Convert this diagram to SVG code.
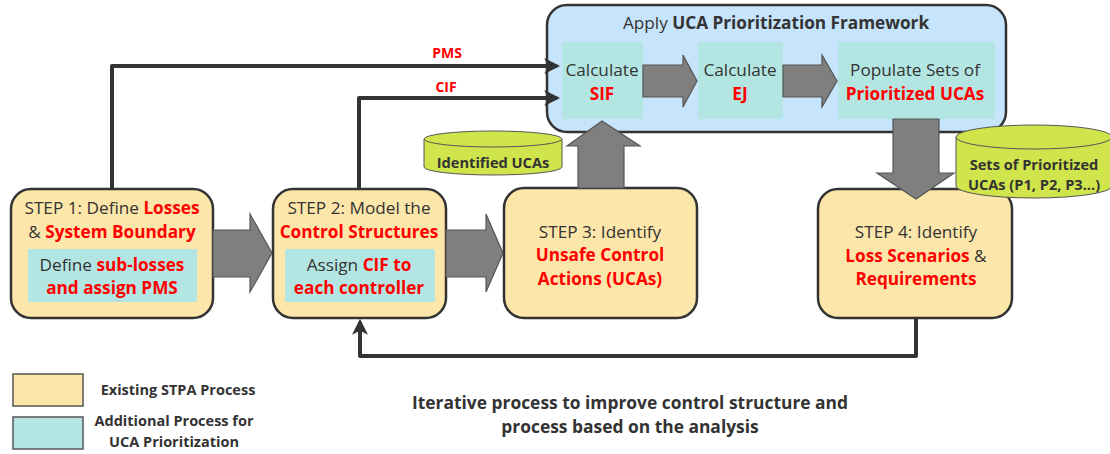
<svg xmlns="http://www.w3.org/2000/svg" width="1110" height="454" viewBox="0 0 1110 454">
<defs>
<style>
text{font-family:"Open Sans","Noto Sans","DejaVu Sans",sans-serif;fill:#333;}
.t{font-size:17.2px;text-anchor:middle;}
.b{font-weight:bold;}
.r{fill:#ff0000;font-weight:bold;}
.step{fill:#fce6a9;stroke:#333;stroke-width:2.5;}
.add{fill:#b3e6e2;}
.blk{fill:#7f7f7f;stroke:#555;stroke-width:1.2;}
.cyl{fill:#d0e44c;stroke:#555;stroke-width:1;}
.ln{fill:none;stroke:#333;stroke-width:4;stroke-linejoin:round;}
.lbl{font-size:14px;font-weight:bold;fill:#ff0000;text-anchor:middle;}
.leg{font-size:14.5px;font-weight:bold;text-anchor:middle;}
.cy{font-size:14.6px;font-weight:bold;text-anchor:middle;}
.cap{font-size:17.4px;font-weight:bold;text-anchor:middle;}
</style>
<marker id="ah" viewBox="0 0 10 10" refX="8" refY="5" markerWidth="4" markerHeight="4" orient="auto" markerUnits="strokeWidth">
<path d="M0,0 L10,5 L0,10 L2.5,5 z" fill="#333"/>
</marker>
</defs>

<g id="framework">
<rect x="547" y="5" width="459" height="127" rx="20" fill="#c6e4fb" stroke="#333" stroke-width="2.5"/>
<text class="t" x="776" y="29">Apply <tspan class="b">UCA Prioritization Framework</tspan></text>
</g>
<g id="calc-sif">
<rect class="add" x="562" y="42" width="81" height="77"/>
<text class="t" x="602" y="76">Calculate</text>
<text class="t r" x="602" y="100">SIF</text>
</g>
<g id="calc-ej">
<rect class="add" x="698" y="42" width="85" height="77"/>
<text class="t" x="740" y="76">Calculate</text>
<text class="t r" x="740" y="100">EJ</text>
</g>
<g id="populate">
<rect class="add" x="838" y="42" width="157" height="77"/>
<text class="t" x="915" y="76">Populate Sets of</text>
<text class="t r" x="915" y="100">Prioritized UCAs</text>
</g>

<g id="step1">
<rect class="step" x="11" y="189" width="202" height="129" rx="20"/>
<text class="t" x="112" y="214">STEP 1: Define <tspan class="r">Losses</tspan></text>
<text class="t" x="112" y="238">&amp; <tspan class="r">System Boundary</tspan></text>
<rect class="add" x="28" y="249" width="169" height="53"/>
<text class="t" x="112" y="271">Define <tspan class="r">sub-losses</tspan></text>
<text class="t r" x="112" y="294">and assign PMS</text>
</g>

<g id="step2">
<rect class="step" x="273" y="189" width="173" height="129" rx="20"/>
<text class="t" x="359" y="214">STEP 2: Model the</text>
<text class="t r" x="359" y="238">Control Structures</text>
<rect class="add" x="285" y="249" width="150" height="53"/>
<text class="t" x="359" y="271">Assign <tspan class="r">CIF to</tspan></text>
<text class="t r" x="359" y="294">each controller</text>
</g>

<g id="step3">
<rect class="step" x="504" y="188" width="193" height="130" rx="20"/>
<text class="t" x="600" y="238">STEP 3: Identify</text>
<text class="t r" x="600" y="261">Unsafe Control</text>
<text class="t r" x="600" y="285">Actions (UCAs)</text>
</g>

<g id="step4">
<rect class="step" x="818" y="189" width="194" height="129" rx="20"/>
<text class="t" x="916" y="238">STEP 4: Identify</text>
<text class="t" x="916" y="262"><tspan class="r">Loss Scenarios</tspan> &amp;</text>
<text class="t r" x="916" y="285">Requirements</text>
</g>

<g id="connectors">
<polygon class="blk" points="213,230 250,230 250,214 272,253 250,292 250,277 213,277"/>
<polygon class="blk" points="446,230 486,230 486,214 503,253 486,292 486,277 446,277"/>
<polygon class="blk" points="643,65 683,65 683,55 697,81 683,107 683,97 643,97"/>
<polygon class="blk" points="783,65 822,65 822,55 837,81 822,107 822,97 783,97"/>
<polygon class="blk" points="578,188 578,146 567,146 602,121 640,146 624,146 624,188"/>
<polygon class="blk" points="893,119 939,119 939,173 954,173 916,199 877,173 893,173"/>
<path class="ln" d="M112,189 V66 H557" marker-end="url(#ah)"/>
<path class="ln" d="M359,189 V98 H557" marker-end="url(#ah)"/>
<path class="ln" d="M916,318 V356 H360 V322" marker-end="url(#ah)"/>
<text class="lbl" x="447" y="58">PMS</text>
<text class="lbl" x="446" y="92">CIF</text>
</g>

<g id="identified-ucas">
<path class="cyl" d="M424,139 V167 A69,8 0 0 0 562,167 V139 Z"/>
<ellipse class="cyl" cx="493" cy="139" rx="69" ry="8"/>
<text class="cy" x="493" y="168">Identified UCAs</text>
</g>

<g id="sets-prioritized">
<path class="cyl" d="M956,137 V186 A78,12 0 0 0 1112,186 V137 Z"/>
<ellipse class="cyl" cx="1034" cy="137" rx="78" ry="12"/>
<text class="cy" x="1034" y="170">Sets of Prioritized</text>
<text class="cy" x="1034" y="190">UCAs (P1, P2, P3...)</text>
</g>

<g id="legend">
<rect x="13" y="374" width="70" height="32" fill="#fce6a9" stroke="#555" stroke-width="1.5"/>
<rect x="13" y="417" width="70" height="32" fill="#b3e6e2" stroke="#555" stroke-width="1.5"/>
<text class="leg" x="178" y="395">Existing STPA Process</text>
<text class="leg" x="174" y="426">Additional Process for</text>
<text class="leg" x="174" y="447">UCA Prioritization</text>
</g>

<g id="caption">
<text class="cap" x="630" y="409">Iterative process to improve control structure and</text>
<text class="cap" x="630" y="433">process based on the analysis</text>
</g>
</svg>
